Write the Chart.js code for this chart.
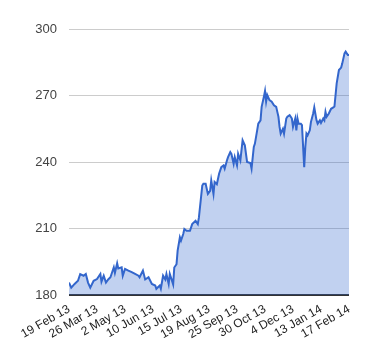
<!DOCTYPE html>
<html>
<head>
<meta charset="utf-8">
<script src="https://cdn.jsdelivr.net/npm/chart.js@4"></script>
<style>
  html, body { margin: 0; padding: 0; background: #fff; }
  #wrap { width: 380px; height: 360px; }
</style>
</head>
<body>
<div id="wrap"><canvas id="price-chart"></canvas></div>
<script>
// trading day index (0 = 19 Feb 13) and closing price
const dayIndex = [0, 2, 5, 8, 10, 13, 15, 17, 19, 22, 25, 28, 29, 31, 33, 35, 37, 40, 41, 43, 44, 47, 48, 50,
    53, 56, 59, 62, 63, 66, 68, 71, 74, 77, 78, 81, 82, 84, 86, 87, 89, 90, 93, 94, 96, 97, 99, 100, 102, 103,
    105, 108, 110, 113, 115, 116, 119, 120, 122, 124, 126, 127, 129, 130, 132, 134, 136, 138, 139, 141, 142,
    144, 145, 147, 148, 150, 151, 153, 155, 157, 159, 162, 163, 165, 166, 168, 169, 171, 172, 174, 175, 176,
    177, 179, 181, 183, 185, 186, 187, 188, 189, 191, 192, 194, 195, 197, 198, 199, 200, 202, 203, 204, 205,
    207, 208, 210, 211, 212, 213, 215, 216, 218, 219, 221, 222, 224, 225, 227, 228, 229, 230, 232, 234, 236,
    237, 239, 241, 243, 244, 246, 247, 248, 249, 250];
const price = [185.6, 183.3, 185, 186.4, 189.4, 188.7, 189.5, 185.6, 183.3, 186.4, 187.2, 189.5, 186, 188.7,
    185.6, 187, 188, 192.5, 190, 194.3, 192, 192.5, 188.7, 191.8, 191, 190.3, 189.5, 188.7, 188, 191, 187, 188,
    185, 184.3, 182.8, 184.3, 182.8, 188.7, 187, 189.5, 185, 189.5, 184.8, 192.4, 193.9, 200, 206, 204.5, 207.5,
    209.8, 209, 209, 212, 213.5, 212, 215, 229.4, 230.2, 230.2, 225.6, 227, 231.7, 225.6, 231, 230, 234.7, 237.7,
    238.5, 237, 240.7, 242.2, 244.5, 243.7, 239.2, 242.2, 238.5, 243.7, 240.7, 249.8, 247.5, 240, 239.5, 237,
    246.8, 248.3, 254.3, 257.3, 258.8, 264.9, 269.4, 272, 267.2, 270.2, 267.9, 267.2, 265.6, 264.9, 262.6, 260.4,
    255.8, 252.8, 255, 252.8, 259.6, 260.4, 261.1, 260.4, 259.6, 255.8, 259.6, 254.3, 259.6, 257.3, 257.3, 256.6,
    237.7, 246.8, 252.8, 252, 254.3, 258, 261.9, 264.6, 258.8, 257.3, 258.8, 257.6, 259.6, 258.8, 262.6, 260.4,
    261.9, 264, 264.6, 265, 275.5, 281.5, 282.6, 284.5, 289, 289.8, 289, 288.3, 288.3];
// one label every 25 trading days
const tickLabels = ['19 Feb 13', '26 Mar 13', '2 May 13', '10 Jun 13', '15 Jul 13', '19 Aug 13',
    '25 Sep 13', '30 Oct 13', '4 Dec 13', '13 Jan 14', '17 Feb 14'];
const yTicks = [180, 210, 240, 270, 300];

const points = dayIndex.map((d, i) => ({ x: d, y: price[i] }));

new Chart(document.getElementById('price-chart'), {
    type: 'line',
    data: {
        datasets: [{
            data: points,
            borderColor: '#3366cc',
            borderWidth: 2,
            backgroundColor: 'rgba(51, 102, 204, 0.3)',
            fill: 'origin',
            pointRadius: 0,
            tension: 0
        }]
    },
    options: {
        responsive: true,
        maintainAspectRatio: false,
        animation: false,
        layout: { padding: { top: 29, right: 31, left: 0, bottom: 0 } },
        plugins: { legend: { display: false }, tooltip: { enabled: false } },
        scales: {
            x: {
                type: 'linear',
                min: 0,
                max: 250,
                grid: { display: false, drawTicks: false },
                border: { display: false },
                afterBuildTicks: scale => {
                    scale.ticks = tickLabels.map((_, i) => ({ value: i * 25 }));
                },
                afterFit: scale => { scale.height = 65; },
                ticks: {
                    autoSkip: false,
                    minRotation: 30,
                    maxRotation: 30,
                    padding: 7,
                    color: '#222',
                    font: { family: 'Liberation Sans, Arial', size: 12 },
                    callback: v => tickLabels[Math.round(v / 25)]
                }
            },
            y: {
                min: 180,
                max: 300,
                grid: {
                    drawTicks: false,
                    color: ctx => ctx.tick && ctx.tick.value === 180 ? '#333' : '#cccccc',
                    lineWidth: ctx => ctx.tick && ctx.tick.value === 180 ? 2 : 1
                },
                border: { display: false },
                afterBuildTicks: scale => {
                    scale.ticks = yTicks.map(v => ({ value: v }));
                },
                afterFit: scale => { scale.width = 69; },
                ticks: {
                    padding: 12,
                    color: '#444',
                    font: { family: 'Liberation Sans, Arial', size: 13 }
                }
            }
        }
    }
});
</script>
</body>
</html>
